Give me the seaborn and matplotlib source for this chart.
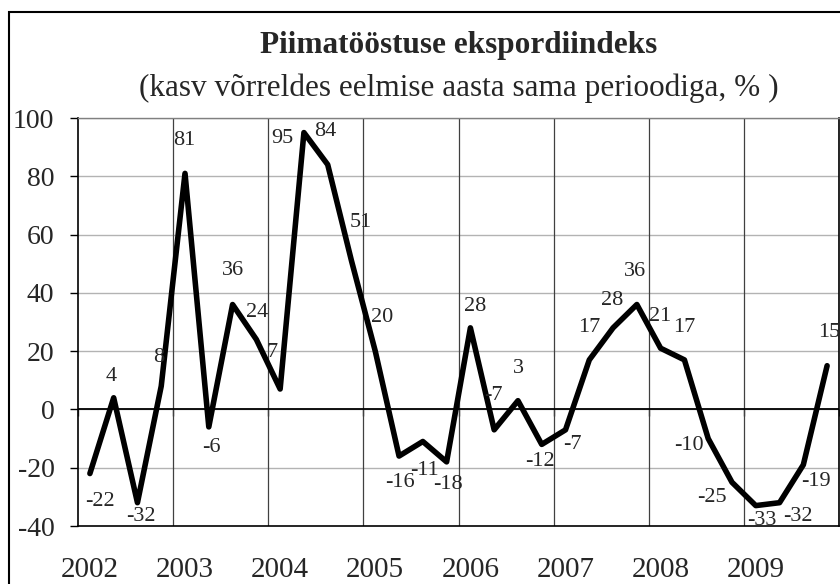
import seaborn as sns
import pandas as pd
import matplotlib.pyplot as plt
from matplotlib.patches import Rectangle

# quarterly export index, growth vs same period previous year (%)
years = ["2002", "2003", "2004", "2005", "2006", "2007", "2008", "2009"]
quarters_per_year = 4
values = [-22, 4, -32, 8,
          81, -6, 36, 24,
          7, 95, 84, 51,
          20, -16, -11, -18,
          28, -7, 3, -12,
          -7, 17, 28, 36,
          21, 17, -10, -25,
          -33, -32, -19, 15]
y_ticks = [-40, -20, 0, 20, 40, 60, 80, 100]

# label offsets in pixels (dx, dy downwards), mimicking Excel's placement
label_offsets = [(10, 28), (-2, -21), (3, 14), (-3, -29),
                 (-1, -33), (3, 21), (0, -34), (1, -27),
                 (-8, -37), (-22, 6), (-2, -33), (9, -38),
                 (7, -34), (1, 26), (2, 29), (1, 23),
                 (5, -21), (-1, -34), (0, -32), (-2, 17),
                 (7, 15), (0, -32), (-1, -27), (-2, -33),
                 (-1, -32), (0, -32), (-19, 7), (-20, 15),
                 (6, 15), (18, 14), (13, 17), (2, -33)]

df = pd.DataFrame({"period": range(len(values)), "value": values})

sns.set_style("white")
plt.rcParams["font.family"] = ["Liberation Serif", "DejaVu Serif"]
plt.rcParams["axes.unicode_minus"] = False

fig = plt.figure(figsize=(8.4, 5.84), dpi=100)
ax = fig.add_axes([78 / 840, 1 - 526 / 584, 761 / 840, 408 / 584])

ax.set_xlim(-0.5, len(values) - 0.5)
ax.set_ylim(y_ticks[0], y_ticks[-1])

# gridlines
for y in y_ticks[1:]:
    ax.axhline(y, color="#b3b3b3", lw=1.0, zorder=1)
boundaries = [i * quarters_per_year - 0.5 for i in range(1, len(years) + 1)]
for b in boundaries:
    ax.axvline(b, color="#404040", lw=0.9, zorder=1)
ax.axhline(0, color="black", lw=1.3, zorder=2)

sns.lineplot(data=df, x="period", y="value", color="black", lw=4.0,
             ax=ax, zorder=3)

for (i, v), (dx, dy) in zip(enumerate(values), label_offsets):
    ax.annotate(str(v), (i, v), xytext=(dx, -dy), textcoords="offset pixels",
                ha="center", va="center", fontsize=16, zorder=4)

ax.set_yticks(y_ticks)
ax.set_xticks([i * quarters_per_year for i in range(len(years))])
ax.set_xticklabels(years)
ax.tick_params(axis="y", direction="out", length=6, width=1, pad=11,
               labelsize=20, left=True, color="black")
ax.tick_params(axis="x", length=0, pad=22, labelsize=21)
ax.set_xlabel("")
ax.set_ylabel("")

for side in ["left", "bottom", "right"]:
    ax.spines[side].set_color("black")
    ax.spines[side].set_linewidth(1.2)
ax.spines["top"].set_color("#808080")
ax.spines["top"].set_linewidth(1.0)

# small tick marks on the zero line at year boundaries
zero_pos = (0 - y_ticks[0]) / (y_ticks[-1] - y_ticks[0])
sec = ax.secondary_xaxis(zero_pos)
sec.set_xticks([-0.5] + boundaries)
sec.set_xticklabels([])
sec.tick_params(direction="out", length=5, width=1, color="#404040")
sec.spines["bottom"].set_visible(False)

cx = (78 + 839) / 2 / 840
fig.text(cx, 1 - 45 / 584, "Piimatööstuse ekspordiindeks", ha="center",
         va="center", fontsize=22.5, fontweight="bold")
fig.text(cx, 1 - 88 / 584, "(kasv võrreldes eelmise aasta sama perioodiga, % )",
         ha="center", va="center", fontsize=22.5)

# outer chart border (runs off the right and bottom edges)
fig.patches.append(Rectangle((9 / 840, -0.05), 1.0, 1 - 12 / 584 + 0.05,
                             transform=fig.transFigure, fill=False,
                             edgecolor="black", lw=1.5, clip_on=False))

fig.savefig("out.png", dpi=100)
